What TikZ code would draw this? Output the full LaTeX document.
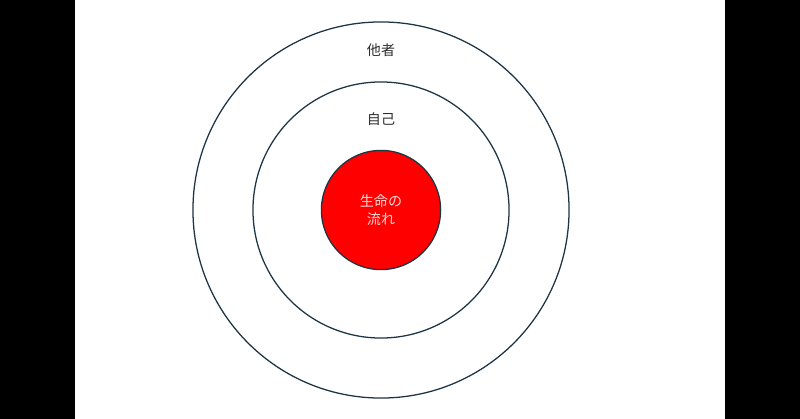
\documentclass[tikz,border=0pt]{standalone}
\usepackage{fontspec}
\setmainfont{Noto Sans CJK JP}
\usetikzlibrary{positioning}
\definecolor{ringline}{RGB}{28,52,68}
\definecolor{labelgray}{RGB}{45,45,45}
\definecolor{corered}{RGB}{255,0,0}
\definecolor{coretext}{RGB}{255,215,215}

\begin{document}
\begin{tikzpicture}[x=0.025cm, y=-0.025cm,
        ring/.style={circle, draw=ringline, line width=0.9pt, inner sep=0pt},
        core/.style={ring, fill=corered, text=coretext, align=center, font=\fontsize{10}{12.8}\selectfont},
        ringlabel/.style={text=labelgray, font=\fontsize{10}{12}\selectfont}]
        \fill[black] (0,0) rectangle (800,419);
        \fill[white] (75,0) rectangle (725,419);

        \node[ring, minimum size=9.4cm] (others) at (381,210) {};
        \node[ring, minimum size=6.4cm] (self) at (381,210) {};
        \node[core, minimum size=2.98cm] (life) at (381,210) {生命の\\流れ};

        % ring labels
        \node[ringlabel] (otherslabel) at (381,50) {他者};
        \node[ringlabel] (selflabel) at (381,119) {自己};
\end{tikzpicture}
\end{document}
